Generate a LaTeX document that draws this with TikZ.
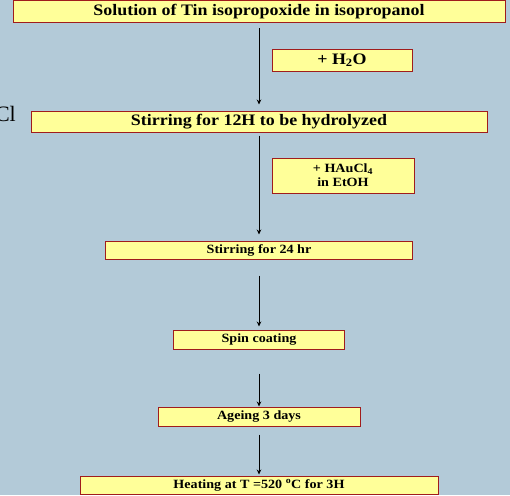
\documentclass[tikz,border=0pt]{standalone}
\usepackage{fontspec}
\setmainfont{Liberation Serif}[FakeStretch=1.12]
\newfontfamily\plainserif{Liberation Serif}
\usetikzlibrary{arrows.meta}
\definecolor{bgblue}{HTML}{B3CAD8}
\definecolor{boxfill}{HTML}{FFFF99}
\definecolor{boxline}{HTML}{A01C1C}
\tikzset{
  stepbox/.style={rectangle, fill=boxfill, draw=boxline, line width=1pt, inner sep=0pt, align=center, text=black, font=\bfseries\fontsize{16}{18}\selectfont},
  smallbox/.style={stepbox, font=\bfseries\fontsize{12.6}{14}\selectfont},
  arr/.style={draw=black, line width=0.7pt, -{Stealth[length=5pt,width=4.5pt]}}
}
\begin{document}
\begin{tikzpicture}[x=1pt,y=-1pt]
\fill[bgblue] (0,0) rectangle (510,495);
\useasboundingbox (0,0) rectangle (510,495);
\node[font=\plainserif\fontsize{22}{24}\selectfont, anchor=base east, inner sep=0pt] (cl) at (16,121) {Cl};
\node[stepbox, minimum width=492pt, minimum height=22pt] (b1) at (259,12) {Solution of Tin isopropoxide in isopropanol};
\node[stepbox, minimum width=140pt, minimum height=22pt] (h2o) at (342,60) {+ H\textsubscript{2}O};
\node[stepbox, minimum width=456pt, minimum height=21pt] (b2) at (259,121.5) {Stirring for 12H to be hydrolyzed};
\node[smallbox, minimum width=142pt, minimum height=35pt] (hau) at (343,175.5) {+ HAuCl\textsubscript{4}\\in EtOH};
\node[smallbox, minimum width=307pt, minimum height=18pt] (b3) at (259,250) {Stirring for 24 hr};
\node[smallbox, minimum width=171pt, minimum height=19pt] (b4) at (259,339.5) {Spin coating};
\node[smallbox, minimum width=202pt, minimum height=19pt] (b5) at (259,416.5) {Ageing 3 days};
\node[smallbox, minimum width=358pt, minimum height=18pt] (b6) at (259,485) {Heating at T =520 \textsuperscript{o}C for 3H};
\draw[arr, shorten <=5pt, shorten >=6pt] (b1) -- (b2);
\draw[arr, shorten <=3pt, shorten >=6pt] (b2) -- (b3);
\draw[arr, shorten <=16pt, shorten >=3pt] (b3) -- (b4);
\draw[arr, shorten <=24pt, shorten >=0pt] (b4) -- (b5);
\draw[arr, shorten <=8pt, shorten >=1pt] (b5) -- (b6);
\end{tikzpicture}
\end{document}
